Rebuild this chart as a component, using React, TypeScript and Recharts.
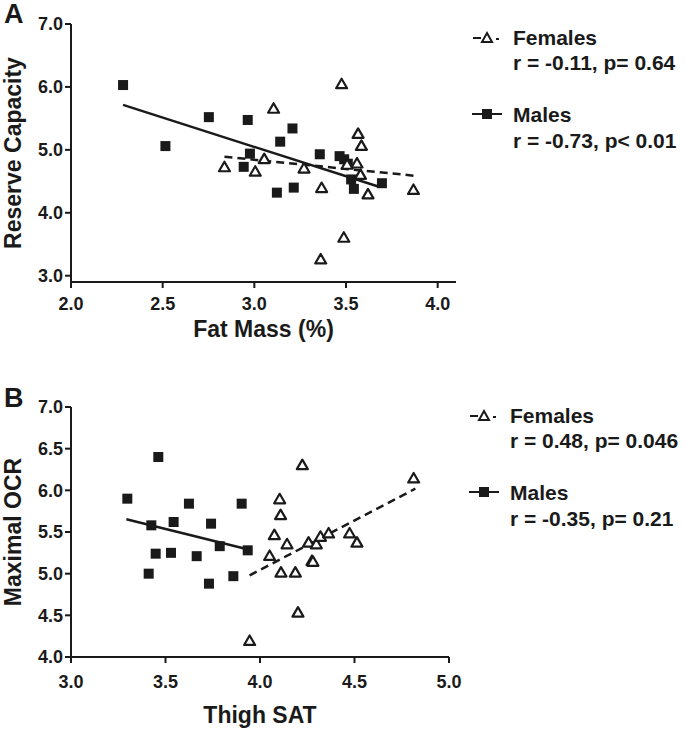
import React from 'react';
import { ScatterChart, Scatter, XAxis, YAxis, ReferenceLine } from 'recharts';

// Panel A: Reserve Capacity vs Fat Mass (%)
const aMaleX = [2.284, 2.515, 2.752, 2.964, 2.976, 2.942, 3.141, 3.208, 3.123, 3.215, 3.357, 3.465, 3.49, 3.51, 3.528, 3.543, 3.696];
const aMaleY = [6.03, 5.06, 5.52, 5.475, 4.94, 4.73, 5.13, 5.34, 4.32, 4.4, 4.93, 4.9, 4.85, 4.78, 4.53, 4.38, 4.47];
const aFemaleX = [2.837, 3.005, 3.054, 3.105, 3.271, 3.367, 3.362, 3.476, 3.488, 3.566, 3.584, 3.56, 3.506, 3.579, 3.62, 3.868];
const aFemaleY = [4.72, 4.65, 4.85, 5.65, 4.7, 4.39, 3.255, 6.04, 3.6, 5.25, 5.06, 4.78, 4.76, 4.6, 4.29, 4.36];
const aMaleFitX = [2.284, 3.68];
const aMaleFitY = [5.714, 4.413];
const aFemaleFitX = [2.837, 3.868];
const aFemaleFitY = [4.89, 4.59];
const aXTicks = [2.0, 2.5, 3.0, 3.5, 4.0];
const aYTicks = [3.0, 4.0, 5.0, 6.0, 7.0];
const aLegend = ['Females', 'r = -0.11, p= 0.64', 'Males', 'r = -0.73, p< 0.01'];

// Panel B: Maximal OCR vs Thigh SAT
const bMaleX = [3.298, 3.462, 3.425, 3.448, 3.411, 3.529, 3.543, 3.624, 3.665, 3.741, 3.73, 3.787, 3.859, 3.903, 3.935];
const bMaleY = [5.9, 6.4, 5.58, 5.24, 5.0, 5.25, 5.62, 5.84, 5.21, 5.6, 4.88, 5.33, 4.97, 5.84, 5.28];
const bFemaleX = [3.945, 4.051, 4.076, 4.104, 4.109, 4.111, 4.143, 4.187, 4.201, 4.224, 4.257, 4.275, 4.28, 4.298, 4.32, 4.363, 4.474, 4.513, 4.813];
const bFemaleY = [4.19, 5.21, 5.46, 5.89, 5.7, 5.01, 5.35, 5.01, 4.53, 6.3, 5.37, 5.15, 5.14, 5.35, 5.44, 5.48, 5.48, 5.37, 6.14];
const bMaleFitX = [3.293, 3.928];
const bMaleFitY = [5.652, 5.296];
const bFemaleFitX = [3.945, 4.822];
const bFemaleFitY = [4.98, 6.02];
const bXTicks = [3.0, 3.5, 4.0, 4.5, 5.0];
const bYTicks = [4.0, 4.5, 5.0, 5.5, 6.0, 6.5, 7.0];
const bLegend = ['Females', 'r = 0.48, p= 0.046', 'Males', 'r = -0.35, p= 0.21'];

const INK = '#1a1a1a';
const FONT = '"Liberation Sans", Arial, Helvetica, sans-serif';

const zip = (xs: number[], ys: number[]) => xs.map((x, i) => ({ x, y: ys[i] }));

const SquareShape = (props: any) => {
  const { cx, cy } = props;
  if (cx == null || cy == null) return null;
  return <rect x={cx - 5} y={cy - 5} width={10} height={10} fill={INK} />;
};

const TriangleShape = (props: any) => {
  const { cx, cy } = props;
  if (cx == null || cy == null) return null;
  const h = 9.5;
  const w = 11;
  return (
    <path
      d={`M${cx},${cy - h * 0.6} L${cx + w / 2},${cy + h * 0.4} L${cx - w / 2},${cy + h * 0.4} Z`}
      fill="#fff"
      stroke={INK}
      strokeWidth={2.2}
      strokeLinejoin="round"
    />
  );
};

const tickStyle = { fill: INK, fontSize: 18, fontWeight: 700, fontFamily: FONT };

const YTitle = (text: string) => (props: any) => {
  const vb = props.viewBox || {};
  const cy = vb.y + vb.height / 2;
  const x = 21;
  return (
    <text
      x={x}
      y={cy}
      transform={`rotate(-90, ${x}, ${cy})`}
      textAnchor="middle"
      fill={INK}
      fontSize={23}
      fontWeight={700}
      fontFamily={FONT}
    >
      {text}
    </text>
  );
};

const XTitle = (text: string, off: number) => (props: any) => {
  const vb = props.viewBox || {};
  return (
    <text
      x={vb.x + vb.width / 2}
      y={vb.y + off}
      textAnchor="middle"
      fill={INK}
      fontSize={23}
      fontWeight={700}
      fontFamily={FONT}
    >
      {text}
    </text>
  );
};

const LegendBlock = ({ top, left, items }: { top: number; left: number; items: string[] }) => (
  <svg
    width={214}
    height={140}
    style={{ position: 'absolute', top, left }}
  >
    {/* Females symbol: dash, triangle, dot */}
    <line x1={2} y1={13} x2={10} y2={13} stroke={INK} strokeWidth={2} />
    <path d="M16,8 L21,17 L11,17 Z" fill="#fff" stroke={INK} strokeWidth={2} />
    <line x1={25} y1={14} x2={28} y2={14} stroke={INK} strokeWidth={2} />
    {/* Males symbol: line, square, line */}
    <line x1={1} y1={89} x2={31} y2={89} stroke={INK} strokeWidth={2} />
    <rect x={11} y={84} width={10} height={10} fill={INK} />
    <text x={42} y={20} fill={INK} fontSize={21} fontWeight={700} fontFamily={FONT}>{items[0]}</text>
    <text x={42} y={45} fill={INK} fontSize={21} fontWeight={700} fontFamily={FONT}>{items[1]}</text>
    <text x={42} y={97} fill={INK} fontSize={21} fontWeight={700} fontFamily={FONT}>{items[2]}</text>
    <text x={42} y={123} fill={INK} fontSize={21} fontWeight={700} fontFamily={FONT}>{items[3]}</text>
  </svg>
);

const fmt = (v: number) => v.toFixed(1);

export default function App() {
  const aMales = zip(aMaleX, aMaleY);
  const aFemales = zip(aFemaleX, aFemaleY);
  const bMales = zip(bMaleX, bMaleY);
  const bFemales = zip(bFemaleX, bFemaleY);

  return (
    <div style={{ position: 'absolute', left: 0, top: 0, width: 685, height: 730, background: '#fff' }}>
      {/* Panel A */}
      <div style={{ position: 'absolute', left: 0, top: 0 }}>
        <ScatterChart width={685} height={355} margin={{ top: 24, right: 229, bottom: 25, left: 0 }}>
          <XAxis
            type="number"
            dataKey="x"
            domain={[2.0, 4.1]}
            ticks={aXTicks}
            tickFormatter={fmt}
            tick={tickStyle}
            tickSize={6}
            tickMargin={9}
            axisLine={{ stroke: INK, strokeWidth: 2 }}
            tickLine={{ stroke: INK, strokeWidth: 2 }}
            height={48}
            allowDataOverflow
            label={{ content: XTitle('Fat Mass (%)', 55) }}
          />
          <YAxis
            type="number"
            dataKey="y"
            domain={[2.9, 7.0]}
            ticks={aYTicks}
            tickFormatter={fmt}
            tick={tickStyle}
            tickSize={6}
            tickMargin={2}
            axisLine={{ stroke: INK, strokeWidth: 2 }}
            tickLine={{ stroke: INK, strokeWidth: 2 }}
            width={71}
            allowDataOverflow
            label={{ content: YTitle('Reserve Capacity') }}
          />
          <ReferenceLine
            segment={zip(aMaleFitX, aMaleFitY)}
            stroke={INK}
            strokeWidth={2.5}
          />
          <ReferenceLine
            segment={zip(aFemaleFitX, aFemaleFitY)}
            stroke={INK}
            strokeWidth={2.5}
            strokeDasharray="8 5"
          />
          <Scatter name="Males" data={aMales} shape={SquareShape} isAnimationActive={false} />
          <Scatter name="Females" data={aFemales} shape={TriangleShape} isAnimationActive={false} />
        </ScatterChart>
        <div style={{ position: 'absolute', left: 4, top: -1, fontFamily: FONT, fontWeight: 700, fontSize: 27, color: INK }}>A</div>
        <LegendBlock top={25} left={471} items={aLegend} />
      </div>

      {/* Panel B */}
      <div style={{ position: 'absolute', left: 0, top: 360 }}>
        <ScatterChart width={685} height={370} margin={{ top: 47, right: 236, bottom: 0, left: 0 }}>
          <XAxis
            type="number"
            dataKey="x"
            domain={[3.0, 5.0]}
            ticks={bXTicks}
            tickFormatter={fmt}
            tick={tickStyle}
            tickSize={6}
            tickMargin={12}
            axisLine={{ stroke: INK, strokeWidth: 2 }}
            tickLine={{ stroke: INK, strokeWidth: 2 }}
            height={73}
            allowDataOverflow
            label={{ content: XTitle('Thigh SAT', 66) }}
          />
          <YAxis
            type="number"
            dataKey="y"
            domain={[4.0, 7.0]}
            ticks={bYTicks}
            tickFormatter={fmt}
            tick={tickStyle}
            tickSize={6}
            tickMargin={2}
            axisLine={{ stroke: INK, strokeWidth: 2 }}
            tickLine={{ stroke: INK, strokeWidth: 2 }}
            width={71}
            allowDataOverflow
            label={{ content: YTitle('Maximal OCR') }}
          />
          <ReferenceLine
            segment={zip(bMaleFitX, bMaleFitY)}
            stroke={INK}
            strokeWidth={2.5}
          />
          <ReferenceLine
            segment={zip(bFemaleFitX, bFemaleFitY)}
            stroke={INK}
            strokeWidth={2.5}
            strokeDasharray="8 5"
          />
          <Scatter name="Males" data={bMales} shape={SquareShape} isAnimationActive={false} />
          <Scatter name="Females" data={bFemales} shape={TriangleShape} isAnimationActive={false} />
        </ScatterChart>
        <div style={{ position: 'absolute', left: 4, top: 23, fontFamily: FONT, fontWeight: 700, fontSize: 27, color: INK }}>B</div>
        <LegendBlock top={43} left={468} items={bLegend} />
      </div>
    </div>
  );
}
